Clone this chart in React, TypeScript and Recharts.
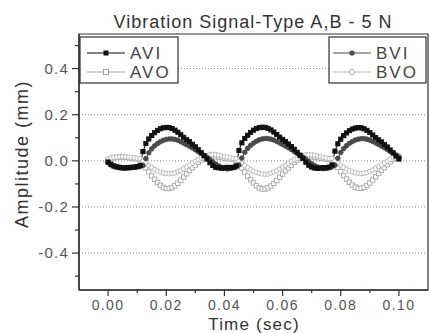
import React from 'react';
import { LineChart, Line, XAxis, YAxis, ReferenceLine, ReferenceArea } from 'recharts';

const TIME = [
  0, 0.001, 0.002, 0.003, 0.004, 0.005, 0.006, 0.007, 0.008, 0.009,
  0.01, 0.011, 0.012, 0.013, 0.014, 0.015, 0.016, 0.017, 0.018, 0.019,
  0.02, 0.021, 0.022, 0.023, 0.024, 0.025, 0.026, 0.027, 0.028, 0.029,
  0.03, 0.031, 0.032, 0.033, 0.034, 0.035, 0.036, 0.037, 0.038, 0.039,
  0.04, 0.041, 0.042, 0.043, 0.044, 0.045, 0.046, 0.047, 0.048, 0.049,
  0.05, 0.051, 0.052, 0.053, 0.054, 0.055, 0.056, 0.057, 0.058, 0.059,
  0.06, 0.061, 0.062, 0.063, 0.064, 0.065, 0.066, 0.067, 0.068, 0.069,
  0.07, 0.071, 0.072, 0.073, 0.074, 0.075, 0.076, 0.077, 0.078, 0.079,
  0.08, 0.081, 0.082, 0.083, 0.084, 0.085, 0.086, 0.087, 0.088, 0.089,
  0.09, 0.091, 0.092, 0.093, 0.094, 0.095, 0.096, 0.097, 0.098, 0.099,
  0.1,
];

const AVI = [
  -0.005, -0.015, -0.022, -0.026, -0.028, -0.03, -0.03, -0.029, -0.028, -0.027, -0.025,
  -0.02, 0.04, 0.075, 0.095, 0.11, 0.122, 0.132, 0.139, 0.143, 0.145,
  0.144, 0.14, 0.133, 0.124, 0.113, 0.102, 0.092, 0.083, 0.072, 0.061,
  0.048, 0.036, 0.022, 0.008, -0.008, -0.02, -0.028, -0.03, -0.032, -0.03,
  -0.028, -0.03, -0.028,
  -0.022, 0.045, 0.078, 0.097, 0.111, 0.123, 0.133, 0.14, 0.144, 0.146,
  0.145, 0.141, 0.134, 0.125, 0.114, 0.103, 0.093, 0.084, 0.073, 0.062,
  0.05, 0.037, 0.024, 0.01, -0.006, -0.019, -0.027, -0.031, -0.033, -0.031,
  -0.029, -0.03, -0.027,
  -0.018, 0.042, 0.074, 0.094, 0.109, 0.121, 0.131, 0.138, 0.142, 0.144,
  0.143, 0.139, 0.132, 0.123, 0.112, 0.101, 0.091, 0.082, 0.071, 0.06,
  0.047, 0.035, 0.021, 0.008,
];

const BVI = [
  -0.008, -0.018, -0.024, -0.028, -0.03, -0.032, -0.032, -0.031, -0.03, -0.028, -0.026,
  -0.025, -0.02, 0.01, 0.035, 0.052, 0.065, 0.075, 0.083, 0.089, 0.093,
  0.095, 0.095, 0.093, 0.089, 0.083, 0.077, 0.07, 0.063, 0.056, 0.048,
  0.04, 0.032, 0.024, 0.015, 0.006, -0.004, -0.014, -0.022, -0.028, -0.032,
  -0.035, -0.033, -0.03,
  -0.027, -0.018, 0.012, 0.037, 0.054, 0.067, 0.077, 0.085, 0.091, 0.095,
  0.097, 0.096, 0.094, 0.09, 0.084, 0.078, 0.071, 0.064, 0.057, 0.049,
  0.041, 0.033, 0.025, 0.016, 0.007, -0.003, -0.013, -0.021, -0.027, -0.031,
  -0.034, -0.033, -0.03,
  -0.026, -0.019, 0.011, 0.036, 0.053, 0.066, 0.076, 0.084, 0.09, 0.094,
  0.096, 0.096, 0.094, 0.09, 0.084, 0.078, 0.071, 0.064, 0.057, 0.049,
  0.041, 0.033, 0.025, 0.016,
];

const AVO = [
  0.005, 0.01, 0.013, 0.015, 0.016, 0.016, 0.015, 0.014, 0.012, 0.01, 0.008,
  0.005, -0.012, -0.03, -0.048, -0.065, -0.08, -0.094, -0.106, -0.115, -0.12,
  -0.12, -0.116, -0.108, -0.097, -0.084, -0.07, -0.056, -0.042, -0.03, -0.018,
  -0.006, 0.004, 0.012, 0.016, 0.018, 0.02, 0.018, 0.016, 0.014, 0.012,
  0.01, 0.008, 0.006,
  0.004, -0.013, -0.031, -0.049, -0.066, -0.082, -0.096, -0.108, -0.117, -0.122,
  -0.122, -0.117, -0.109, -0.098, -0.085, -0.071, -0.057, -0.043, -0.031, -0.019,
  -0.007, 0.003, 0.011, 0.015, 0.018, 0.019, 0.018, 0.016, 0.014, 0.012,
  0.01, 0.008, 0.006,
  0.005, -0.011, -0.029, -0.047, -0.064, -0.079, -0.093, -0.105, -0.114, -0.119,
  -0.119, -0.115, -0.107, -0.096, -0.083, -0.069, -0.055, -0.041, -0.029, -0.017,
  -0.005, 0.005, 0.012, 0.016,
];

const BVO = [
  0.008, 0.012, 0.015, 0.017, 0.018, 0.018, 0.017, 0.016, 0.015, 0.013, 0.011,
  0.01, 0.0, -0.01, -0.02, -0.029, -0.037, -0.044, -0.049, -0.053, -0.055,
  -0.056, -0.055, -0.052, -0.047, -0.041, -0.034, -0.026, -0.018, -0.01, -0.002,
  0.006, 0.013, 0.019, 0.024, 0.027, 0.028, 0.027, 0.025, 0.022, 0.019,
  0.016, 0.013, 0.011,
  0.009, -0.001, -0.011, -0.021, -0.03, -0.038, -0.045, -0.05, -0.054, -0.057,
  -0.058, -0.057, -0.053, -0.048, -0.042, -0.035, -0.027, -0.019, -0.011, -0.003,
  0.005, 0.012, 0.018, 0.023, 0.026, 0.027, 0.026, 0.024, 0.021, 0.018,
  0.015, 0.012, 0.01,
  0.01, 0.001, -0.009, -0.019, -0.028, -0.036, -0.043, -0.048, -0.052, -0.054,
  -0.055, -0.054, -0.051, -0.046, -0.04, -0.033, -0.025, -0.017, -0.009, -0.001,
  0.007, 0.014, 0.02, 0.024,
];

const X_TICKS = [0, 0.01, 0.02, 0.03, 0.04, 0.05, 0.06, 0.07, 0.08, 0.09, 0.1];
const X_MAJOR = [0, 0.02, 0.04, 0.06, 0.08, 0.1];
const X_LABELS = ['0.00', '0.02', '0.04', '0.06', '0.08', '0.10'];
const Y_TICKS = [-0.5, -0.4, -0.3, -0.2, -0.1, 0, 0.1, 0.2, 0.3, 0.4, 0.5];
const Y_MAJOR = [-0.4, -0.2, 0, 0.2, 0.4];
const Y_LABELS = ['-0.4', '-0.2', '0.0', '0.2', '0.4'];
const GRID_Y = [-0.4, -0.2, 0, 0.2, 0.4];
const X_DOMAIN = [-0.01, 0.11];
const Y_DOMAIN = [-0.56, 0.55];

const TITLE = 'Vibration Signal-Type A,B - 5 N';
const X_TITLE = 'Time (sec)';
const Y_TITLE = 'Amplitude (mm)';

const FONT = '"Liberation Sans", Arial, sans-serif';
const AXIS_COLOR = '#333';
const TEXT_COLOR = '#444';

const C_AVI = '#111';
const C_BVI = '#4a4a4a';
const C_AVO = '#a6a6a6';
const C_BVO = '#b4b4b4';

const data = TIME.map((t, i) => ({ t, AVI: AVI[i], BVI: BVI[i], AVO: AVO[i], BVO: BVO[i] }));

const findIdx = (arr: number[], v: number) => arr.findIndex((a) => Math.abs(a - v) < 1e-9);

const XTick = (p: any) => {
  const { x, y, payload } = p;
  const idx = findIdx(X_MAJOR, payload.value);
  const major = idx >= 0;
  return (
    <g>
      <line x1={x} x2={x} y1={y} y2={y + (major ? 6 : 3)} stroke={AXIS_COLOR} strokeWidth={1.2} />
      {major && (
        <text x={x} y={y + 20} textAnchor="middle" fontSize={14} letterSpacing={1.4} fill="#555" fontFamily={FONT}>
          {X_LABELS[idx]}
        </text>
      )}
    </g>
  );
};

const YTick = (p: any) => {
  const { x, y, payload } = p;
  const idx = findIdx(Y_MAJOR, payload.value);
  const major = idx >= 0;
  return (
    <g>
      <line x1={x - (major ? 7 : 4)} x2={x} y1={y} y2={y} stroke={AXIS_COLOR} strokeWidth={1.2} />
      {major && (
        <text x={x - 10} y={y} dy="0.36em" textAnchor="end" fontSize={15} letterSpacing={1.2} fill="#555" fontFamily={FONT}>
          {Y_LABELS[idx]}
        </text>
      )}
    </g>
  );
};

const squareDot = (fill: string, stroke: string, s: number) => (p: any) => {
  if (p.cx == null || p.cy == null) return <g key={`n${p.index}`} />;
  return (
    <rect key={`s${p.index}`} x={p.cx - s / 2} y={p.cy - s / 2} width={s} height={s} fill={fill} stroke={stroke} strokeWidth={0.9} />
  );
};

const circleDot = (fill: string, stroke: string, r: number) => (p: any) => {
  if (p.cx == null || p.cy == null) return <g key={`n${p.index}`} />;
  return <circle key={`c${p.index}`} cx={p.cx} cy={p.cy} r={r} fill={fill} stroke={stroke} strokeWidth={0.9} />;
};

const LegendRow = ({ x, y, name, color, marker }: any) => (
  <g>
    <line x1={x} x2={x + 38} y1={y} y2={y} stroke={color} strokeWidth={1.2} />
    {marker === 'fsq' && <rect x={x + 16.5} y={y - 2.5} width={5} height={5} fill={color} />}
    {marker === 'osq' && <rect x={x + 16.5} y={y - 2.5} width={5} height={5} fill="#fff" stroke={color} strokeWidth={1} />}
    {marker === 'fci' && <circle cx={x + 19} cy={y} r={2.6} fill={color} />}
    {marker === 'oci' && <circle cx={x + 19} cy={y} r={2.6} fill="#fff" stroke={color} strokeWidth={1} />}
    <text x={x + 43} y={y} dy="0.36em" fontSize={17} letterSpacing={2} fill={TEXT_COLOR} fontFamily={FONT}>
      {name}
    </text>
  </g>
);

export default function App() {
  return (
    <div style={{ position: 'absolute', left: 0, top: 0, width: 430, height: 333, background: '#fff' }}>
      <LineChart width={430} height={333} data={data} margin={{ top: 34, right: 2, left: 0, bottom: 0 }}>
        <XAxis
          type="number"
          dataKey="t"
          domain={X_DOMAIN}
          ticks={X_TICKS}
          interval={0}
          allowDataOverflow
          height={43}
          tickLine={false}
          tickSize={0}
          tickMargin={0}
          tick={(p: any) => <XTick {...p} />}
          axisLine={{ stroke: AXIS_COLOR, strokeWidth: 1.5 }}
        />
        <YAxis
          type="number"
          domain={Y_DOMAIN}
          ticks={Y_TICKS}
          interval={0}
          allowDataOverflow
          width={79}
          tickLine={false}
          tickSize={0}
          tickMargin={0}
          tick={(p: any) => <YTick {...p} />}
          axisLine={{ stroke: AXIS_COLOR, strokeWidth: 1.5 }}
        />
        {GRID_Y.map((v) => (
          <ReferenceLine key={v} y={v} stroke="#8a8a8a" strokeDasharray="1 2" strokeWidth={1} />
        ))}
        <ReferenceArea
          x1={X_DOMAIN[0]}
          x2={X_DOMAIN[1]}
          y1={Y_DOMAIN[0]}
          y2={Y_DOMAIN[1]}
          fill="none"
          fillOpacity={0}
          stroke={AXIS_COLOR}
          strokeWidth={1.2}
        />
        <Line dataKey="AVO" type="linear" stroke={C_AVO} strokeWidth={1} dot={squareDot('#fff', C_AVO, 4.4)} isAnimationActive={false} />
        <Line dataKey="BVO" type="linear" stroke={C_BVO} strokeWidth={1} dot={circleDot('#fff', C_BVO, 2.3)} isAnimationActive={false} />
        <Line dataKey="BVI" type="linear" stroke={C_BVI} strokeWidth={1} dot={circleDot(C_BVI, C_BVI, 2.3)} isAnimationActive={false} />
        <Line dataKey="AVI" type="linear" stroke={C_AVI} strokeWidth={1} dot={squareDot(C_AVI, C_AVI, 4.2)} isAnimationActive={false} />
      </LineChart>
      <svg width={430} height={333} style={{ position: 'absolute', left: 0, top: 0, pointerEvents: 'none' }}>
        <text x={253} y={28} textAnchor="middle" fontSize={18} letterSpacing={1} fill="#333" fontFamily={FONT}>
          {TITLE}
        </text>
        <text x={254} y={330} textAnchor="middle" fontSize={17} letterSpacing={1.2} fill="#333" fontFamily={FONT}>
          {X_TITLE}
        </text>
        <text x={28} y={154} textAnchor="middle" fontSize={18} letterSpacing={1.5} fill="#333" fontFamily={FONT} transform="rotate(-90, 28, 154)">
          {Y_TITLE}
        </text>
        <rect x={80} y={37} width={98} height={46} fill="#fff" stroke={AXIS_COLOR} strokeWidth={1.2} />
        <LegendRow x={87} y={53} name="AVI" color={C_AVI} marker="fsq" />
        <LegendRow x={87} y={72} name="AVO" color={C_AVO} marker="osq" />
        <rect x={329} y={37} width={97} height={46} fill="#fff" stroke={AXIS_COLOR} strokeWidth={1.2} />
        <LegendRow x={333} y={53} name="BVI" color={C_BVI} marker="fci" />
        <LegendRow x={333} y={72} name="BVO" color={C_BVO} marker="oci" />
      </svg>
    </div>
  );
}
